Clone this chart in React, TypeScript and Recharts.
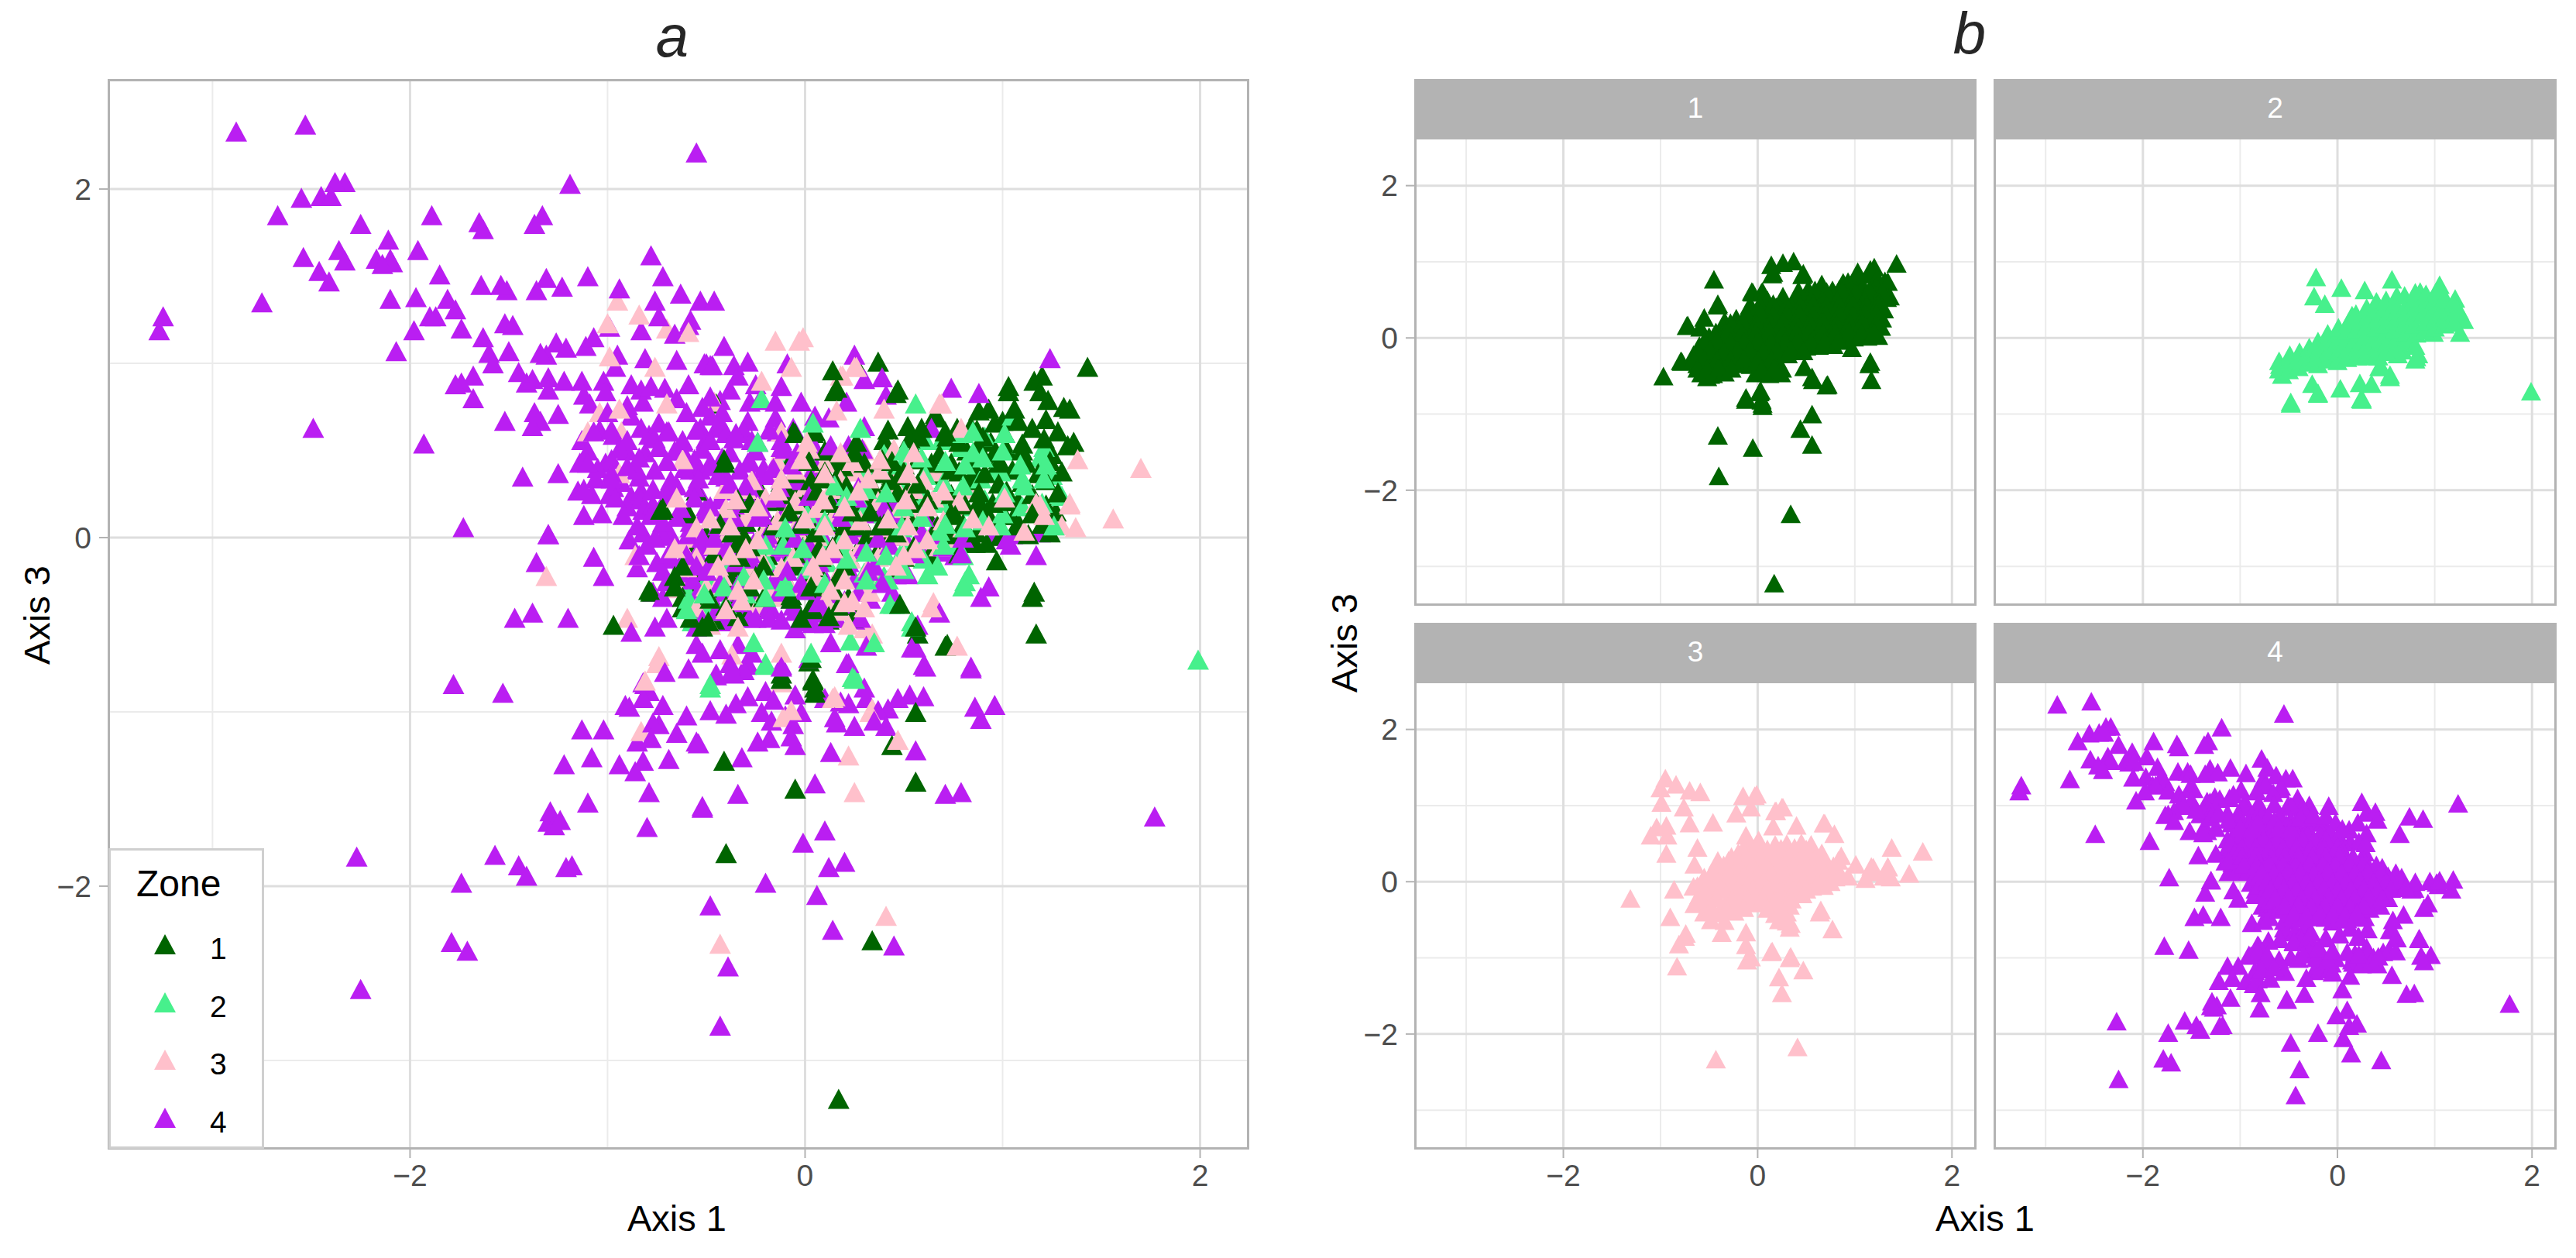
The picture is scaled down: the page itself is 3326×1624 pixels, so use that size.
import { CartesianGrid, Scatter, ScatterChart, XAxis, YAxis } from 'recharts';

type Pair = [number, number];

const zone1Points: Pair[] = [
  [1.43,.98],[.37,1.01],[.14,.96],[.15,.84],[.47,.85],[1.03,.84],[1.16,.9],[1.2,.93],[1.19,.84],[1.23,.79],[1.31,.75],[1.34,.74],
  [.88,.73],[.93,.74],[1.06,.74],[.66,.69],[1,.67],[1.08,.67],[1.22,.68],[.96,.66],[.52,.64],[.77,.63],[.84,.64],[-.05,.6],[.04,.6],
  [.58,.58],[.53,.57],[.4,.56],[.72,.58],[.9,.58],[.94,.55],[1.1,.54],[1.21,.57],[1.21,.49],[1.33,.53],[.88,.52],[1.02,.51],[.78,.55],
  [-.41,.43],[.11,.43],[.19,.41],[.39,.45],[.5,.42],[.64,.43],[.74,.43],[1.11,.43],[.98,.43],[.48,.36],[.44,.36],[.86,.39],[.74,.39],
  [.61,.39],[-.08,.43],[.21,.3],[.28,.27],[.34,.3],[.08,.34],[-.05,.28],[.52,.27],[.62,.22],[.76,.21],[.88,.21],[1,.21],[1.06,.13],
  [.92,.15],[.76,.13],[.62,.13],[.52,.13],[.24,.15],[-.34,.19],[-.59,.14],[-.73,.16],[.29,.07],[.2,.07],[.38,.07],[.82,.04],[.86,-.03],
  [.92,-.03],[.97,-.13],[-.31,.01],[.07,-.06],[-.08,-.12],[-.04,-.16],[-.34,-.03],[-.6,-.25],[-.22,-.24],[.03,-.28],[.14,-.3],[-.07,-.33],
  [1.15,-.34],[1.17,-.55],[.03,-.39],[.48,-.38],[-.78,-.31],[-.97,-.5],[.12,-.45],[.71,-.62],[-.12,-.81],[.04,-.82],[.05,-.89],[.57,-.55],
  [-.52,-.51],[.02,-.71],[-.12,-.78],[.04,-.81],[.05,-.86],[.56,-1],[.44,-1.19],[-.41,-1.28],[.56,-1.4],[-.05,-1.44],[-.4,-1.81],[.34,-2.31],
  [.17,-3.22],[-.45,.77],[-.41,.45],[-.72,.17],[-.55,.27],[-.79,-.3],[-.34,.22],[.26,.99],[.16,.86],[.46,.83],[-.06,.61],[.05,.61],[.26,.55],
  [.66,.71],[1.03,.87],[1.36,.55],[1.16,-.31],[.72,-.61],[.56,-.51],[.25,-.4],[.03,-.69],[-.49,-.48],
  [.42,.62],[.59,.63],[.71,.61],[.87,.62],[1.01,.6],[1.15,.63],[1.28,.61],
  [.1,.5],[.25,.49],[.41,.51],[.55,.5],[.68,.48],[.82,.5],[.96,.49],[1.1,.5],[1.25,.48],
  [-.05,.37],[.1,.38],[.23,.39],[.37,.37],[.5,.38],[.64,.36],[.78,.38],[.91,.37],[1.05,.39],[1.18,.37],[1.3,.38],
  [-.22,.26],[-.08,.25],[.06,.27],[.2,.26],[.34,.24],[.47,.26],[.6,.27],[.74,.25],[.88,.26],[1.02,.27],[1.15,.25],[1.28,.26],
  [-.36,.14],[-.22,.13],[-.08,.15],[.05,.14],[.19,.13],[.33,.15],[.47,.14],[.6,.12],[.74,.14],[.88,.15],[1.01,.13],[1.15,.14],[1.27,.15],
  [-.5,.02],[-.37,.03],[-.23,.01],[-.09,.02],[.05,.03],[.18,.01],[.32,.02],[.46,.03],[.6,.01],[.74,.02],[.87,.03],[.99,.01],[1.13,.02],[1.24,.03],
  [-.6,-.1],[-.46,-.09],[-.33,-.11],[-.19,-.1],[-.05,-.09],[.08,-.11],[.22,-.1],[.36,-.09],[.5,-.11],[.63,-.1],[.78,-.09],
  [-.66,-.22],[-.52,-.21],[-.38,-.23],[-.25,-.22],[-.11,-.21],[.03,-.23],[.17,-.22],[.31,-.21],
  [-.62,-.34],[-.48,-.35],[-.35,-.33],[-.21,-.34],[-.07,-.35],[.07,-.33],[.22,-.34],
  [-.58,-.46],[-.46,-.47],[-.34,-.45],[-.02,-.46],[.12,-.47],[.24,-.46],
  [.02,.44],[.16,.45],[.3,.43],[.44,.44],[.57,.45],[.71,.43],[.84,.44],[.98,.45],[1.12,.43],[1.24,.44],
  [-.12,.32],[.03,.33],[.16,.31],[.3,.32],[.43,.33],[.57,.31],[.7,.32],[.84,.33],[.98,.31],[1.1,.32],[1.22,.33],
  [-.28,.2],[-.15,.21],[-.01,.19],[.13,.2],[.26,.21],[.4,.19],[.54,.2],[.68,.21],[.81,.19],[.95,.2],[1.08,.21],[1.22,.19],
  [-.43,.08],[-.3,.09],[-.16,.07],[-.02,.08],[.12,.09],[.26,.07],[.4,.08],[.53,.09],[.67,.07],[.8,.08],[.94,.09],[1.07,.07],[1.2,.08],
  [-.55,-.04],[-.42,-.03],[-.28,-.05],[-.14,-.04],[0,-.03],[.14,-.05],[.28,-.04],[.41,-.03],[.55,-.05],[.69,-.04],[.83,-.03],
  [-.62,-.16],[-.49,-.15],[-.35,-.17],[-.21,-.16],[-.08,-.15],[.06,-.17],[.2,-.16],[.34,-.15],[.47,-.17],
  [-.66,-.28],[-.55,-.27],[-.42,-.29],[-.28,-.28],[-.14,-.27],[0,-.29],[.14,-.28],
  [-.62,-.4],[-.52,-.41],[-.4,-.39],[-.27,-.4],[.04,-.41],[.17,-.39],
];

const zone2Points: Pair[] = [
  [1.99,-.7],[-.48,-.86],[.24,-.8],[-.2,-.73],[-.22,.8],[-.24,.55],[-.13,.45],[.04,.66],[.28,.63],[.56,.77],[1.05,.7],[.85,.61],[1.21,.52],
  [1.3,.24],[1.26,.07],[.54,-.48],[.43,-.38],[.35,-.6],[.23,-.59],[.25,-.79],[.03,-.66],[-.2,-.72],[-.26,-.6],[-.48,-.84],[-.57,-.48],[-.59,-.35],
  [.15,.3],[.81,-.25],[.4,.48],[.85,.49],[.97,.41],[1.1,.34],[1.22,.42],[1.25,.36],[1.29,.25],[.99,.07],[.73,-.04],[.68,.04],[.49,.07],[.19,-.04],
  [.1,-.12],[.48,-.1],[.83,-.21],[.8,-.28],[.67,-.16],[.62,-.21],[.42,-.24],[.31,-.24],[.45,-.38],[.54,-.51],[.25,-.81],[-.19,-.16],[-.1,-.25],
  [-.6,-.41],[-.6,-.3],[-.5,-.42],[-.51,-.32],[-.49,-.22],[-.4,-.38],[-.41,-.28],[-.39,-.18],[-.3,-.32],[-.31,-.22],[-.29,-.12],
  [-.2,-.34],[-.21,-.24],[-.19,-.14],[-.2,-.04],[-.1,-.28],[-.09,-.16],[-.11,-.04],[-.1,.06],[0,-.3],[.01,-.18],[-.01,-.06],[0,.06],[.01,.14],
  [.1,-.26],[.11,-.14],[.09,-.02],[.1,.1],[.11,.2],[.2,-.24],[.21,-.12],[.19,0],[.2,.12],[.21,.24],[.19,.32],[.3,-.2],[.31,-.08],[.29,.04],[.3,.16],[.31,.28],[.3,.4],
  [.4,-.22],[.41,-.1],[.39,.02],[.4,.14],[.41,.26],[.39,.38],[.41,.46],[.5,-.18],[.51,-.06],[.49,.06],[.5,.18],[.51,.3],[.49,.42],[.5,.5],
  [.6,-.12],[.61,0],[.59,.12],[.6,.24],[.61,.36],[.59,.46],[.61,.56],[.7,-.04],[.71,.08],[.69,.2],[.7,.32],[.71,.44],[.69,.56],
  [.8,-.1],[.81,.06],[.79,.18],[.8,.3],[.81,.42],[.79,.52],[.8,.6],[.9,.1],[.91,.22],[.89,.34],[.9,.46],[.91,.58],[1,.14],[1.01,.26],[.99,.38],[1,.5],[1.01,.6],
  [1.1,.18],[1.11,.3],[1.09,.42],[1.1,.54],[1.2,.2],[1.21,.34],[1.19,.46],
];

const zone3Points: Pair[] = [
  [-.75,-.72],[-.83,-1.11],[-.43,-2.33],[-.12,-.83],[.14,-.92],[-.07,-.99],[-.11,-1.03],[.33,-1],[.47,-1.16],[.22,-1.25],[.25,-1.46],[.41,-2.17],
  [-.95,1.36],[-.84,1.28],[-1,1.23],[-.7,1.2],[-.59,1.18],[-.99,1.04],[-.76,.98],[-1.04,.72],[-.94,.74],[-1.1,.61],[-.93,.61],[-.7,.77],[-.46,.78],
  [-.94,.37],[-.15,1.13],[-.01,1.15],[-.07,.98],[-.22,.9],[.18,.93],[.26,.98],[.4,.74],[.68,.77],[.79,.63],[1.38,.45],[1.7,.4],[1.56,.11],[1.34,.2],
  [1.3,.07],[1.17,.2],[1.01,.23],[.86,.34],[-.62,.45],[-.65,.23],[-.41,.28],[-.12,.61],[.01,.55],[-1.31,-.22],[-.86,-.1],[-.66,-.06],[-.9,-.46],
  [-.74,-.68],[-.81,-.82],[-.37,-.67],[-.12,-.66],[.15,-.91],[.34,-.98],[.65,-.37],[.77,-.62],[.33,-.6],[-.03,1.13],[.25,.98],[.19,.93],[.69,.77],
  [.16,.73],[1.37,.06],[1.19,.19],[1.21,.13],[1.34,.19],[1.11,.04],[.64,-.4],[.34,-.55],[.33,-.31],[.2,-.37],
  [-.12,.5],[.02,.51],[.18,.49],[.3,.5],[.45,.51],[.55,.49],
  [-.2,.38],[-.05,.39],[.1,.37],[.25,.38],[.38,.39],[.52,.37],[.66,.38],
  [-.3,.28],[-.14,.27],[0,.29],[.13,.28],[.27,.27],[.41,.29],[.55,.28],[.7,.27],[.83,.28],
  [-.4,.17],[-.24,.18],[-.08,.16],[.06,.17],[.2,.18],[.34,.16],[.48,.17],[.62,.18],[.76,.16],
  [-.55,.06],[-.38,.07],[-.2,.05],[-.05,.06],[.1,.07],[.24,.05],[.38,.06],[.52,.07],[.66,.05],[.8,.06],[.93,.07],
  [-.62,-.05],[-.46,-.04],[-.3,-.06],[-.14,-.05],[0,-.04],[.14,-.06],[.28,-.05],[.42,-.04],[.56,-.06],[.68,-.05],
  [-.6,-.17],[-.44,-.16],[-.28,-.18],[-.12,-.17],[.04,-.16],[.18,-.18],[.32,-.17],[.46,-.16],
  [-.65,-.29],[-.5,-.28],[-.34,-.3],[-.18,-.29],[-.02,-.28],[.13,-.3],[.28,-.29],
  [-.55,-.4],[-.4,-.41],[-.24,-.39],[.18,-.42],[.3,-.4],[-.48,-.5],[-.34,-.51],[.22,-.5],[.3,-.52],
  [-.14,.44],[-.02,.45],[.1,.43],[.24,.44],[.38,.45],[.5,.43],
  [-.27,.33],[-.12,.34],[.03,.32],[.18,.33],[.32,.34],[.45,.32],[.6,.33],
  [-.35,.22],[-.2,.23],[-.05,.21],[.09,.22],[.23,.23],[.37,.21],[.51,.22],[.65,.23],[.78,.21],
  [-.48,.11],[-.3,.12],[-.14,.1],[0,.11],[.14,.12],[.28,.1],[.42,.11],[.56,.12],[.7,.1],[.85,.11],
  [-.56,0],[-.4,.01],[-.24,-.01],[-.08,0],[.06,.01],[.2,-.01],[.35,0],[.48,.01],[.62,-.01],[.75,0],
  [-.55,-.11],[-.38,-.1],[-.22,-.12],[-.06,-.11],[.09,-.1],[.23,-.12],[.37,-.11],[.5,-.1],
  [-.58,-.23],[-.42,-.22],[-.26,-.24],[-.1,-.23],[.05,-.22],[.2,-.24],[.35,-.23],
  [-.48,-.35],[-.32,-.36],[-.14,-.34],[.1,-.35],[.24,-.36],
];

const zone4Points: Pair[] = [
  [-2.88,2.33],[-2.53,2.37],[-.55,2.21],[-1.19,2.03],[-2.33,2.04],[-2.38,2.04],[-2.55,1.95],[-2.45,1.96],[-2.4,1.96],[-2.67,1.85],[-2.25,1.8],
  [-1.89,1.85],[-1.65,1.81],[-1.63,1.77],[-1.33,1.85],[-1.37,1.8],[-2.11,1.71],[-1.96,1.65],[-2.54,1.61],[-2.36,1.65],[-2.33,1.59],[-2.17,1.6],
  [-2.1,1.6],[-2.14,1.57],[-2.09,1.58],[-2.46,1.53],[-2.41,1.47],[-1.85,1.51],[-1.64,1.45],[-1.54,1.45],[-1.51,1.42],[-1.31,1.49],[-1.36,1.42],
  [-1.23,1.44],[-1.1,1.5],[-.78,1.62],[-.72,1.5],[-.94,1.43],[-.76,1.36],[-.63,1.4],[-.53,1.36],[-.46,1.36],[-2.75,1.35],[-2.1,1.37],[-1.97,1.38],
  [-1.81,1.37],[-1.77,1.31],[-1.9,1.27],[-1.87,1.27],[-1.98,1.19],[-1.74,1.2],[-1.52,1.23],[-1.48,1.22],[-.74,1.27],[-.58,1.25],[-.59,1.22],
  [-.99,1.21],[-.83,1.19],[-.66,1.17],[-3.25,1.27],[-3.27,1.19],[-2.07,1.07],[-1.63,1.15],[-1.6,1.06],[-1.5,1.07],[-1.34,1.06],[-1.31,1.05],
  [-1.26,1.12],[-1.21,1.09],[-1.11,1.1],[-1.07,1.15],[-.95,1.05],[-.81,1.03],[-.65,1.02],[-.51,1],[-.48,.99],[-1.58,1],[-.96,.98],[-1.68,.93],
  [-1.74,.89],[-1.77,.88],[-1.41,.89],[-1.38,.91],[-1.3,.92],[-1.13,.9],[-1.02,.9],[-1.01,.84],[-.88,.88],[-.83,.85],[-.78,.87],[-.71,.86],
  [-.59,.88],[-1.68,.8],[-1.09,.77],[-.9,.76],[-1.37,.72],[-1.34,.67],[-1.25,.71],[-1.52,.67],[-1.38,.64],[-2.49,.63],[-1.93,.54],[-1.04,.62],
  [-1.07,.61],[-.97,.59],[-1.13,.56],[-.74,.66],[-.69,.61],[-.79,.59],[-.74,.52],[-.62,.56],[-.62,.5],[-.53,.63],[-.5,.57],[-.9,.5],[-1.14,.43],
  [-1.1,.43],[-1.01,.43],[-.85,.39],[-1.43,.35],[-1.25,.37],[-1.06,.34],[-.98,.37],[-.93,.32],[-1.12,.13],[-1.73,.06],[-1.3,.02],
  [.25,1.05],[1.24,1.03],[-.41,1.1],[-.09,1],[-.29,1.01],[-.36,.99],[-.5,1],[-.47,.99],[-.34,.93],[.3,.91],[.39,.92],[.41,.82],[.74,.86],[.88,.83],
  [.12,.69],[.21,.78],[-.48,.81],[-.43,.79],[-.42,.72],[-.52,.75],[-.28,.78],[-.23,.79],[-.15,.78],[-.15,.69],[-.29,.67],[-.53,.62],[-.45,.63],
  [-.4,.6],[-.35,.6],[-.5,.56],[-.14,.61],[-.27,.56],[-1.15,.27],[-1.08,.25],[-.99,.25],[-.88,.24],[-.77,.28],[-1.03,.14],[-.92,.13],[-.82,.16],
  [-1.3,.02],[-.89,-.01],[-.82,.03],[-.72,.09],[-.68,.02],[-.58,.09],[-.52,0],[-.44,.02],[-.76,0],[-.84,-.1],[-1.36,-.14],[-1.07,-.11],[-1.02,-.22],
  [-.85,-.17],[-.68,-.12],[-.6,-.1],[-.72,-.19],[-.64,-.19],[-.55,-.16],[-.42,-.1],[-.36,-.18],[-.28,-.12],[-.77,-.31],[-.72,-.34],[-.66,-.28],
  [-.52,-.34],[-.42,-.31],[-.34,-.27],[-.24,-.24],[-.18,-.39],[-.06,-.39],[-.6,-.36],[-.47,-.42],[-1.47,-.46],[-1.38,-.43],[-1.2,-.46],[-.88,-.54],
  [-.76,-.51],[-.7,-.46],[-.55,-.51],[-.42,-.48],[-.28,-.46],[-.18,-.46],[-.05,-.52],[.04,-.49],[.1,-.49],[.16,-.46],[.25,-.47],[.28,-.46],
  [-.55,-.61],[-.52,-.66],[-.43,-.64],[-.34,-.61],[-.27,-.66],[-.38,-.72],[-.3,-.73],[-.59,-.75],[-.71,-.77],[-.45,-.79],[-.36,-.78],[-.81,-.84],
  [-.12,-.73],[.02,-.69],[.22,-.72],[.13,-.6],[.31,-.62],[.54,-.63],[.56,-.63],[.61,-.74],[.84,-.75],[.89,-.34],[.93,-.28],[.68,-.43],[.57,-.5],
  [1.19,.03],[1.02,-.01],[1.04,-.04],[1.17,-.1],[.79,-.09],[.52,-.21],[.44,-.31],[.35,-.16],[.22,-.14],[.09,.07],[.4,.17],[.28,.39],[.3,.64],[.13,.53],
  [.22,.53],[.29,.51],[-.1,.51],[-.04,.49],[.05,.52],[-.16,.4],[-.29,.43],[-.2,.36],[-.48,.43],[-.58,.39],[-.53,.39],[-.44,.36],[-.65,.3],[-.38,.31],
  [-.3,.3],[-.24,.27],[-.04,.33],[.02,.24],[.04,.12],[-.14,.07],[-.22,.13],[-.15,-.08],[-.36,.12],[-.48,.18],[-.54,.27],[-.2,0],[.59,.03],[.76,-.1],[.64,.63],
  [-1.78,-.84],[-1.53,-.89],[-.82,-.83],[-.79,-.88],[-.91,-.96],[-.89,-.97],[-.77,-1.06],[-.74,-1.07],[-1.13,-1.1],[-1.02,-1.1],[-.85,-1.17],[-.55,-1.17],
  [-.48,-.99],[-1.22,-1.3],[-1.08,-1.26],[-.94,-1.3],[-.86,-1.34],[-.82,-1.28],[-.69,-1.27],[-.79,-1.46],[-1.1,-1.52],[-.52,-1.55],[-.8,-1.66],[-1.29,-1.57],
  [-1.24,-1.62],[-1.3,-1.63],[-1.27,-1.65],[-2.27,-1.83],[-1.57,-1.82],[-1.45,-1.88],[-1.41,-1.94],[-1.21,-1.89],[-1.18,-1.88],[-1.74,-1.98],[-.48,-2.11],
  [-1.79,-2.32],[-1.71,-2.37],[-2.25,-2.59],[-.43,-2.8],[.6,-.73],[.84,-.74],[.21,-.72],[-.12,-.74],[-.29,-.72],[-.37,-.76],[-.45,-.78],[-.31,-.76],
  [-.29,-.91],[-.16,-.93],[-.4,-1.01],[.18,-.94],[.3,-.86],[.31,-.92],[.37,-.99],[.47,-.92],[.53,-.9],[.6,-.91],[.86,-.97],[.96,-.96],[.89,-1.04],[-.02,-1],
  [-.17,-1.05],[-.06,-1.07],[.15,-1.03],[.16,-1.06],[.25,-1.08],[.41,-1.08],[-.24,-1.17],[-.18,-1.15],[-.07,-1.14],[-.05,-1.19],[.13,-1.23],[.56,-1.22],
  [-.32,-1.26],[-.54,-1.18],[.05,-1.41],[-.34,-1.47],[.71,-1.47],[.79,-1.46],[-.52,-1.54],[.1,-1.68],[-.01,-1.75],[.12,-1.89],[.2,-1.86],[-.2,-1.98],[.06,-2.05],
  [.14,-2.25],[.45,-2.34],[-.39,-2.46],[1.77,-1.6],
  [-.98,.62],[-.83,.63],[-.7,.61],[-.55,.62],[-.42,.64],[-.31,.61],[-.18,.62],[-.06,.63],
  [-1.1,.5],[-.94,.51],[-.81,.49],[-.66,.5],[-.52,.51],[-.38,.49],[-.25,.5],[-.12,.52],[.02,.5],
  [-1.05,.4],[-.9,.41],[-.76,.39],[-.61,.4],[-.47,.41],[-.33,.39],[-.21,.4],[-.07,.42],[.06,.4],
  [-1.12,.28],[-.97,.29],[-.83,.27],[-.7,.28],[-.56,.29],[-.41,.27],[-.28,.28],[-.13,.29],[.01,.27],[.14,.28],[.27,.29],
  [-.9,.18],[-.77,.19],[-.63,.17],[-.5,.18],[-.36,.19],[-.22,.17],[-.09,.18],[.05,.19],[.19,.17],[.33,.18],[.46,.19],
  [-.85,.07],[-.72,.08],[-.58,.06],[-.44,.07],[-.31,.08],[-.17,.06],[-.03,.07],[.11,.08],[.24,.06],[.38,.07],[.52,.08],[.66,.06],
  [-.8,-.04],[-.66,-.03],[-.53,-.05],[-.39,-.04],[-.26,-.03],[-.12,-.05],[.02,-.04],[.16,-.03],[.3,-.05],[.43,-.04],[.57,-.03],[.7,-.05],
  [-.75,-.14],[-.62,-.13],[-.48,-.15],[-.35,-.14],[-.21,-.13],[-.07,-.15],[.07,-.14],[.21,-.13],[.34,-.15],[.48,-.14],
  [-.7,-.25],[-.57,-.24],[-.43,-.26],[-.3,-.25],[-.16,-.24],[-.02,-.26],[.11,-.25],[.25,-.24],[.39,-.26],
  [-.6,-.36],[-.47,-.35],[-.34,-.37],[-.2,-.36],[-.07,-.35],[.07,-.37],[.2,-.36],[.33,-.35],
  [-.52,-.47],[-.38,-.48],[-.25,-.46],[-.12,-.47],[.01,-.48],[.14,-.46],
  [-.9,.56],[-.76,.57],[-.62,.55],[-.48,.56],[-.36,.57],[-.24,.55],[-.12,.56],
  [-.98,.45],[-.84,.46],[-.7,.44],[-.56,.45],[-.42,.46],[-.28,.44],[-.14,.45],[0,.46],
  [-.98,.34],[-.84,.35],[-.68,.33],[-.54,.34],[-.4,.35],[-.26,.33],[-.12,.34],[.02,.35],[.16,.33],
  [-.96,.23],[-.83,.22],[-.7,.24],[-.56,.23],[-.43,.22],[-.29,.24],[-.15,.23],[-.02,.22],[.12,.24],[.26,.23],[.4,.22],
  [-.78,.13],[-.65,.12],[-.51,.14],[-.38,.13],[-.24,.12],[-.1,.14],[.04,.13],[.18,.12],[.31,.14],[.45,.13],[.6,.12],
  [-.72,.01],[-.59,.02],[-.46,0],[-.32,.01],[-.19,.02],[-.05,0],[.09,.01],[.23,.02],[.37,0],[.5,.01],[.64,.02],[.8,0],[.95,.01],[1.05,.02],
  [-.69,-.09],[-.55,-.08],[-.42,-.1],[-.28,-.09],[-.14,-.08],[0,-.1],[.14,-.09],[.27,-.08],[.41,-.1],[.55,-.09],[.7,-.08],
  [-.64,-.2],[-.5,-.19],[-.37,-.21],[-.23,-.2],[-.09,-.19],[.04,-.21],[.18,-.2],[.32,-.19],[.46,-.21],
  [-.54,-.31],[-.4,-.3],[-.27,-.32],[-.13,-.31],[0,-.3],[.13,-.32],[.27,-.31],
  [-.45,-.42],[-.32,-.43],[-.18,-.41],[-.05,-.42],[.08,-.43],[.2,-.41],
  [-.82,-.92],[-.72,-.96],[-.6,-1.02],[-.78,-1.15],[-.65,-1.12],[-.35,-.95],[-.22,-1],[-.1,-1.02],[-.2,-.88],[-.05,-.9],[.1,-.92],[.22,-.95],[.35,-1.05],[.42,-.98],
  [-1.45,.95],[-1.3,.85],[-1.22,.9],[-1.12,.82],[-1,.72],[-.88,.7],[-.82,.78],[-.65,.8],[-.6,.72],[-.48,.7],[-.38,.85],[-.25,.88],[-.12,.87],[-.02,.78],[.05,.7],
];

const zoneLabels = ['1', '2', '3', '4'];
const zoneColors = ['#006400', '#47F08C', '#FFC0CB', '#BA1EF2'];
const zonePoints = [zone1Points, zone2Points, zone3Points, zone4Points];
const xTicks = [-2, 0, 2];
const yTicks = [-2, 0, 2];
const xMinor = [-3, -1, 1];
const yMinor = [-3, -1, 1];
const xDomain = [-3.527, 2.245];
const yDomain = [-3.507, 2.627];

const FONT = '"Liberation Sans", Arial, sans-serif';
const GUTTER = 100;
const BOTTOM = 80;
const ROUNDS = 3;
const DRAW_ORDER = [3, 0, 1, 2];

const toObjects = (pts: Pair[]) => pts.map(([x, y]) => ({ x, y }));
const fmt = (v: number) => String(v).replace('-', '\u2212');

function triangle(w: number, h: number) {
  return (props: any) => {
    const { cx, cy, fill } = props;
    return <path d={`M${cx} ${cy - h / 2}L${cx + w / 2} ${cy + h / 2}L${cx - w / 2} ${cy + h / 2}Z`} fill={fill} />;
  };
}

function LegendBox() {
  return (
    <div style={{ position: 'absolute', left: 140, top: 1095, width: 201, height: 388, background: '#fff', border: '3px solid #cfcfcf', boxSizing: 'border-box', fontFamily: FONT, color: '#000' }}>
      <div style={{ position: 'absolute', left: 33, top: 16, fontSize: 48, lineHeight: '54px' }}>Zone</div>
      {zoneLabels.map((z, i) => (
        <div key={z}>
          <svg width={30} height={28} style={{ position: 'absolute', left: 55, top: 107 + i * 74.5 }}>
            <path d="M15 1L29 27L1 27Z" fill={zoneColors[i]} />
          </svg>
          <div style={{ position: 'absolute', left: 128, top: 105 + i * 74.5, fontSize: 39, lineHeight: '44px' }}>{z}</div>
        </div>
      ))}
    </div>
  );
}

function Grid() {
  return (
    <>
      <CartesianGrid stroke="#ebebeb" strokeWidth={2} verticalValues={xMinor} horizontalValues={yMinor} />
      <CartesianGrid stroke="#dedede" strokeWidth={3} verticalValues={xTicks} horizontalValues={yTicks} />
    </>
  );
}

function Axes({ showX, showY, size }: { showX: boolean; showY: boolean; size: number }) {
  const tick = { fontFamily: FONT, fontSize: size, fill: '#4d4d4d' };
  return (
    <>
      <XAxis
        type="number"
        dataKey="x"
        domain={xDomain}
        ticks={xTicks}
        allowDataOverflow
        hide={!showX}
        height={BOTTOM}
        axisLine={false}
        tick={tick}
        tickSize={12}
        tickMargin={8}
        tickLine={{ stroke: '#b3b3b3', strokeWidth: 2 }}
        tickFormatter={fmt}
      />
      <YAxis
        type="number"
        dataKey="y"
        domain={yDomain}
        ticks={yTicks}
        allowDataOverflow
        hide={!showY}
        width={GUTTER}
        axisLine={false}
        tick={tick}
        tickSize={12}
        tickMargin={10}
        tickLine={{ stroke: '#b3b3b3', strokeWidth: 2 }}
        tickFormatter={fmt}
      />
    </>
  );
}

const Frame = ({ l, t, r, b }: { l: number; t: number; r: number; b: number }) => (
  <div style={{ position: 'absolute', left: l - 1, top: t - 1, width: r - l + 2, height: b - t + 2, border: '3px solid #b3b3b3', boxSizing: 'border-box', pointerEvents: 'none' }} />
);

function MainPanel() {
  const l = 140, t = 103, r = 1612, b = 1483;
  const layers: { zone: number; round: number }[] = [];
  for (let round = 0; round < ROUNDS; round++) for (const zone of DRAW_ORDER) layers.push({ zone, round });
  return (
    <>
      <div style={{ position: 'absolute', left: l - GUTTER, top: t - 6 }}>
        <ScatterChart width={r - l + GUTTER + 6} height={b - t + BOTTOM + 6} margin={{ top: 6, right: 6, bottom: 0, left: 0 }}>
          {Grid()}
          {Axes({ showX: true, showY: true, size: 39 })}
          {layers.map(({ zone, round }) => (
            <Scatter
              key={`${zone}-${round}`}
              name={zoneLabels[zone]}
              data={toObjects(zonePoints[zone].filter((_, i) => i % ROUNDS === round))}
              fill={zoneColors[zone]}
              shape={triangle(28, 26)}
              isAnimationActive={false}
            />
          ))}
        </ScatterChart>
      </div>
      <Frame l={l} t={t} r={r} b={b} />
      <LegendBox />
    </>
  );
}

function Facet({ zone, l, t, r, b, showX, showY }: { zone: number; l: number; t: number; r: number; b: number; showX: boolean; showY: boolean }) {
  const stripH = 76;
  return (
    <>
      <div style={{ position: 'absolute', left: l - 1, top: t - stripH, width: r - l + 2, height: stripH, background: '#b3b3b3', color: '#fff', fontFamily: FONT, fontSize: 37, textAlign: 'center', lineHeight: `${stripH}px` }}>
        {zoneLabels[zone]}
      </div>
      <div style={{ position: 'absolute', left: l - GUTTER, top: t }}>
        <ScatterChart
          width={r - l + GUTTER + 6}
          height={b - t + BOTTOM}
          margin={{ top: 0, right: 6, bottom: showX ? 0 : BOTTOM, left: showY ? 0 : GUTTER }}
        >
          {Grid()}
          {Axes({ showX, showY, size: 39 })}
          <Scatter data={toObjects(zonePoints[zone])} fill={zoneColors[zone]} shape={triangle(26, 24)} isAnimationActive={false} />
        </ScatterChart>
      </div>
      <Frame l={l} t={t} r={r} b={b} />
    </>
  );
}

const textStyle = { position: 'absolute', fontFamily: FONT, whiteSpace: 'nowrap', transform: 'translate(-50%, -50%)' } as const;

export default function App() {
  return (
    <div style={{ position: 'absolute', left: 0, top: 0, width: 3326, height: 1624, background: '#fff', overflow: 'hidden' }}>
      <div style={{ ...textStyle, left: 868, top: 46, fontSize: 76, fontStyle: 'italic', color: '#262626' }}>a</div>
      <div style={{ ...textStyle, left: 2543, top: 42, fontSize: 76, fontStyle: 'italic', color: '#262626' }}>b</div>
      <MainPanel />
      <Facet zone={0} l={1827} t={178} r={2551} b={781} showX={false} showY />
      <Facet zone={1} l={2575} t={178} r={3300} b={781} showX={false} showY={false} />
      <Facet zone={2} l={1827} t={880} r={2551} b={1483} showX showY />
      <Facet zone={3} l={2575} t={880} r={3300} b={1483} showX showY={false} />
      <div style={{ ...textStyle, left: 874, top: 1572, fontSize: 47, color: '#000' }}>Axis 1</div>
      <div style={{ ...textStyle, left: 2563, top: 1572, fontSize: 47, color: '#000' }}>Axis 1</div>
      <div style={{ ...textStyle, left: 47, top: 794, fontSize: 47, color: '#000', transform: 'translate(-50%, -50%) rotate(-90deg)' }}>Axis 3</div>
      <div style={{ ...textStyle, left: 1735, top: 830, fontSize: 47, color: '#000', transform: 'translate(-50%, -50%) rotate(-90deg)' }}>Axis 3</div>
    </div>
  );
}
